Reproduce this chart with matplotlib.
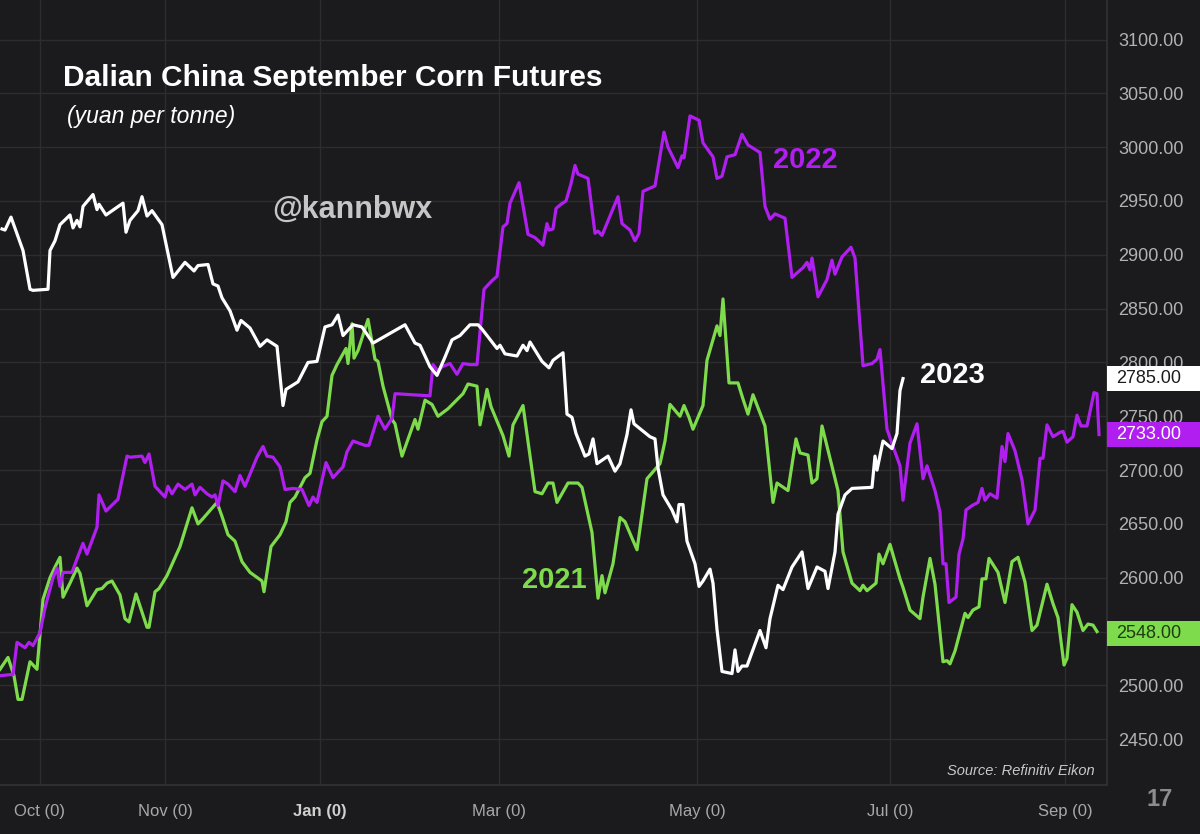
import matplotlib.pyplot as plt
from matplotlib.patches import Rectangle
import matplotlib.transforms as mtransforms

# x = position along the season (month ticks below), y = yuan per tonne
x2023 = [2, 5, 11, 23, 30, 33, 48, 50, 55, 60, 70, 73, 77, 80, 83, 93, 97, 99, 106, 123, 126, 130, 138,
         142, 147, 152, 162, 173, 185, 194, 198, 208, 213, 218, 222, 230, 237, 241, 250, 260, 267, 277,
         283, 286, 298, 308, 317, 325, 332, 338, 343, 348, 353, 362, 373, 405, 415, 420, 430, 437, 445,
         452, 460, 470, 478, 482, 497, 500, 505, 517, 523, 527, 530, 542, 549, 553, 563, 567, 572, 576,
         585, 589, 593, 597, 608, 615, 620, 627, 631, 634, 650, 655, 658, 663, 672, 677, 679, 683, 687,
         695, 699, 703, 710, 713, 717, 722, 732, 735, 738, 742, 747, 760, 766, 770, 778, 783, 792, 802,
         808, 817, 825, 828, 835, 838, 845, 852, 872, 875, 877, 883, 892, 897, 900, 903]
y2023 = [2924, 2923, 2935, 2904, 2868, 2867, 2868, 2904, 2913, 2928, 2937, 2925, 2932, 2926, 2945, 2956,
         2942, 2947, 2937, 2948, 2921, 2932, 2941, 2954, 2936, 2941, 2928, 2879, 2893, 2885, 2890, 2891,
         2873, 2871, 2860, 2848, 2830, 2839, 2832, 2815, 2821, 2815, 2760, 2775, 2782, 2800, 2801, 2833,
         2835, 2844, 2825, 2830, 2835, 2833, 2818, 2835, 2818, 2816, 2796, 2788, 2805, 2821, 2825, 2835,
         2835, 2831, 2813, 2816, 2808, 2806, 2816, 2811, 2819, 2801, 2795, 2802, 2809, 2752, 2749, 2734,
         2713, 2715, 2729, 2706, 2713, 2699, 2706, 2733, 2756, 2743, 2731, 2729, 2702, 2677, 2663, 2652,
         2668, 2668, 2634, 2613, 2592, 2597, 2608, 2595, 2552, 2513, 2511, 2533, 2513, 2518, 2518, 2551,
         2535, 2562, 2593, 2589, 2610, 2624, 2590, 2610, 2606, 2590, 2624, 2659, 2677, 2683, 2684, 2713,
         2700, 2727, 2720, 2734, 2774, 2785]

x2022 = [0, 10, 13, 17, 25, 29, 33, 40, 45, 53, 57, 60, 63, 72, 78, 83, 87, 97, 99, 106, 118, 127, 130,
         142, 145, 149, 155, 165, 168, 172, 178, 185, 192, 195, 200, 207, 212, 215, 218, 223, 228, 235,
         240, 245, 257, 263, 267, 273, 280, 285, 293, 302, 309, 313, 317, 326, 333, 343, 347, 353, 365,
         369, 378, 385, 392, 395, 430, 433, 438, 442, 450, 457, 463, 470, 477, 484, 492, 497, 503, 507,
         510, 519, 528, 535, 543, 547, 549, 553, 556, 561, 566, 571, 575, 578, 588, 595, 598, 602, 618,
         622, 630, 635, 639, 643, 655, 664, 668, 678, 682, 684, 690, 699, 703, 713, 717, 722, 727, 735,
         742, 748, 760, 765, 770, 775, 785, 792, 803, 807, 810, 812, 818, 827, 832, 835, 842, 851, 855,
         863, 872, 877, 880, 887, 893, 900, 903, 910, 917, 923, 927, 935, 940, 943, 946, 949, 956, 959,
         963, 966, 972, 978, 982, 985, 990, 997, 1002, 1005, 1008, 1015, 1022, 1028, 1035, 1040, 1043,
         1047, 1053, 1060, 1063, 1067, 1073, 1077, 1081, 1087, 1094, 1097, 1099]
y2022 = [2509, 2510, 2510, 2540, 2535, 2540, 2537, 2549, 2572, 2600, 2609, 2592, 2605, 2605, 2620, 2632,
         2622, 2647, 2677, 2662, 2673, 2713, 2712, 2713, 2707, 2715, 2685, 2675, 2685, 2678, 2687, 2682,
         2687, 2677, 2684, 2678, 2675, 2677, 2667, 2690, 2687, 2680, 2695, 2685, 2712, 2722, 2713, 2712,
         2703, 2682, 2683, 2682, 2667, 2675, 2670, 2707, 2693, 2703, 2717, 2727, 2723, 2723, 2750, 2738,
         2748, 2771, 2769, 2798, 2792, 2796, 2799, 2789, 2799, 2798, 2798, 2868, 2876, 2880, 2926, 2929,
         2948, 2967, 2919, 2916, 2909, 2929, 2923, 2924, 2943, 2947, 2950, 2966, 2983, 2975, 2971, 2920,
         2922, 2918, 2954, 2929, 2923, 2913, 2920, 2959, 2964, 3014, 3000, 2981, 2992, 2990, 3029, 3025,
         3004, 2991, 2971, 2973, 2991, 2993, 3012, 3002, 2995, 2945, 2933, 2938, 2934, 2879, 2888, 2893,
         2886, 2897, 2861, 2877, 2895, 2882, 2898, 2907, 2897, 2797, 2799, 2803, 2812, 2738, 2722, 2704,
         2672, 2725, 2743, 2692, 2704, 2681, 2661, 2613, 2613, 2577, 2582, 2622, 2636, 2663, 2667, 2670,
         2683, 2672, 2678, 2674, 2722, 2708, 2734, 2718, 2691, 2650, 2663, 2711, 2711, 2742, 2731, 2735,
         2736, 2726, 2731, 2751, 2741, 2741, 2772, 2771, 2733]

x2021 = [0, 8, 14, 18, 22, 30, 37, 43, 50, 55, 60, 63, 70, 77, 80, 87, 97, 102, 107, 112, 120, 125, 129,
         136, 147, 149, 155, 159, 167, 180, 192, 198, 203, 217, 222, 228, 235, 242, 250, 262, 264, 271,
         280, 286, 290, 295, 305, 310, 317, 322, 327, 332, 337, 343, 346, 348, 352, 354, 358, 368, 375,
         378, 383, 392, 395, 402, 415, 418, 425, 432, 438, 448, 463, 468, 477, 480, 487, 491, 503, 509,
         513, 523, 535, 542, 548, 553, 557, 568, 578, 582, 592, 598, 602, 605, 613, 620, 625, 637, 647,
         660, 665, 670, 680, 684, 689, 693, 703, 707, 717, 720, 723, 729, 738, 743, 748, 753, 765, 773,
         777, 788, 796, 800, 808, 812, 817, 822, 830, 838, 843, 852, 860, 863, 867, 876, 879, 883, 890,
         900, 903, 910, 920, 923, 930, 935, 943, 947, 950, 955, 965, 968, 973, 979, 982, 986, 989, 998,
         1005, 1012, 1018, 1025, 1032, 1037, 1047, 1053, 1058, 1064, 1067, 1072, 1077, 1083, 1088, 1093,
         1097]
y2021 = [2515, 2526, 2509, 2487, 2487, 2522, 2515, 2580, 2600, 2610, 2619, 2582, 2595, 2609, 2604, 2574,
         2589, 2590, 2595, 2597, 2584, 2562, 2559, 2585, 2554, 2554, 2587, 2590, 2602, 2629, 2665, 2650,
         2655, 2670, 2657, 2640, 2634, 2615, 2605, 2597, 2587, 2629, 2640, 2652, 2670, 2675, 2693, 2697,
         2728, 2745, 2750, 2788, 2798, 2808, 2813, 2799, 2836, 2804, 2811, 2840, 2803, 2801, 2778, 2747,
         2743, 2713, 2747, 2738, 2765, 2761, 2750, 2757, 2771, 2780, 2778, 2742, 2775, 2759, 2732, 2713,
         2742, 2760, 2680, 2678, 2688, 2688, 2670, 2688, 2688, 2684, 2642, 2581, 2602, 2586, 2613, 2656,
         2652, 2626, 2692, 2706, 2727, 2761, 2750, 2760, 2749, 2738, 2760, 2802, 2834, 2825, 2859, 2781,
         2781, 2766, 2752, 2770, 2741, 2670, 2688, 2681, 2729, 2716, 2714, 2688, 2692, 2741, 2711, 2681,
         2624, 2595, 2588, 2593, 2588, 2595, 2622, 2613, 2631, 2599, 2591, 2570, 2562, 2582, 2618, 2594,
         2522, 2523, 2520, 2532, 2567, 2563, 2570, 2573, 2599, 2599, 2618, 2605, 2577, 2615, 2619, 2596,
         2551, 2556, 2594, 2576, 2563, 2519, 2525, 2575, 2568, 2551, 2557, 2556, 2550]

month_pos = [40, 165, 320, 499, 697, 890, 1065]
month_lbl = ['Oct (0)', 'Nov (0)', 'Jan (0)', 'Mar (0)', 'May (0)', 'Jul (0)', 'Sep (0)']
price_ticks = list(range(2450, 3101, 50))
last_vals = [2785, 2733, 2548]

bg = '#1b1b1d'
grid = '#2d2d30'
white = '#ffffff'
purple = '#b01ff0'
green = '#7ddb4c'

plt.rcParams['font.family'] = ['Liberation Sans', 'DejaVu Sans']

fig = plt.figure(figsize=(12, 8.34), dpi=100, facecolor=bg)
ax = fig.add_axes([0, 1 - 785 / 834, 1107 / 1200, 785 / 834])
ax.set_facecolor(bg)

ax.plot(x2021, y2021, color=green, lw=2.3, solid_joinstyle='round', zorder=3)
ax.plot(x2022, y2022, color=purple, lw=2.3, solid_joinstyle='round', zorder=3)
ax.plot(x2023, y2023, color=white, lw=2.3, solid_joinstyle='round', zorder=4)

ax.set_xlim(0, 1107)
ax.set_ylim(2407.5, 3136.7)

ax.set_xticks(month_pos)
ax.set_xticklabels(month_lbl)
ax.set_yticks(price_ticks)
ax.set_yticklabels(['%.2f' % v for v in price_ticks])
ax.yaxis.tick_right()
ax.tick_params(axis='y', length=0, pad=8, labelsize=13, labelcolor='#b2b2b2')
ax.tick_params(axis='x', length=0, pad=14, labelsize=12, labelcolor='#a8a8a8')
for lab in ax.get_xticklabels():
    if lab.get_text().startswith('Jan'):
        lab.set_fontweight('bold')
        lab.set_color('#d0d0d0')

ax.grid(True, color=grid, lw=1)
for s in ['top', 'left']:
    ax.spines[s].set_visible(False)
for s in ['right', 'bottom']:
    ax.spines[s].set_color('#323235')
    ax.spines[s].set_linewidth(1.2)

# last-price boxes on the price scale
trans = mtransforms.blended_transform_factory(ax.transAxes, ax.transData)
box_style = [(white, '#1b1b1d'), (purple, '#ffffff'), (green, '#1f3d12')]
for v, (fc, tc) in zip(last_vals, box_style):
    ax.add_patch(Rectangle((1.0, v - 11.5), 93 / 1107, 23, transform=trans, facecolor=fc,
                           edgecolor='none', clip_on=False, zorder=6))
    ax.text(1.0 + 9 / 1107, v, '%.2f' % v, transform=trans, color=tc, fontsize=13,
            va='center', ha='left', clip_on=False, zorder=7)

fig.text(63 / 1200, 1 - 78 / 834, 'Dalian China September Corn Futures', color='white',
         fontsize=21.5, fontweight='bold', va='center', ha='left')
fig.text(67 / 1200, 1 - 116 / 834, '(yuan per tonne)', color='white', fontsize=16.5,
         fontstyle='italic', va='center', ha='left')
fig.text(272 / 1200, 1 - 210 / 834, '@kannbwx', color='#c6c6c6', fontsize=22,
         fontweight='bold', va='center', ha='left')
fig.text(773 / 1200, 1 - 160 / 834, '2022', color=purple, fontsize=21, fontweight='bold',
         va='center', ha='left')
fig.text(920 / 1200, 1 - 375 / 834, '2023', color='white', fontsize=21, fontweight='bold',
         va='center', ha='left')
fig.text(522 / 1200, 1 - 580 / 834, '2021', color=green, fontsize=21, fontweight='bold',
         va='center', ha='left')
fig.text(1095 / 1200, 1 - 771 / 834, 'Source: Refinitiv Eikon', color='#c8c8c8', fontsize=10.5,
         fontstyle='italic', va='center', ha='right')
fig.text(1160 / 1200, 1 - 800 / 834, '17', color='#8c8c8c', fontsize=17, fontweight='bold',
         va='center', ha='center')

fig.savefig('out.png', dpi=100, facecolor=bg)
